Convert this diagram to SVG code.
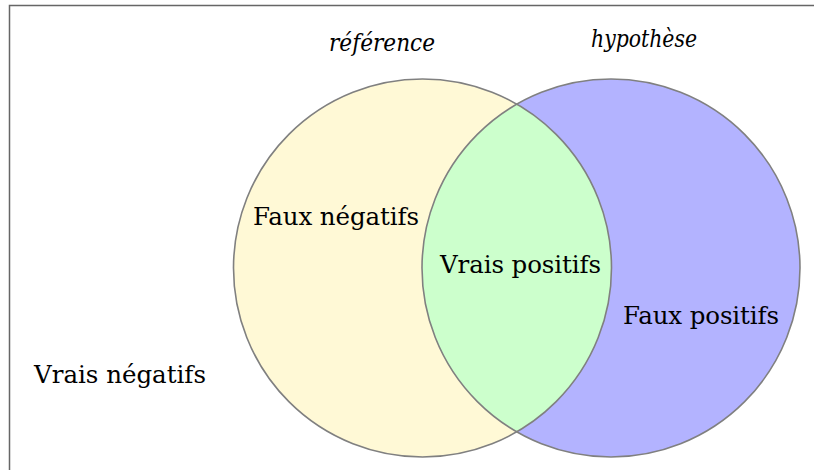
<svg xmlns="http://www.w3.org/2000/svg" width="814" height="470" viewBox="0 0 814 470">
  <style>
    .lbl { font-family: "DejaVu Serif", "Liberation Serif", serif; font-size: 24.5px; fill: #000; }
    .set { font-style: italic; font-size: 23.5px; }
    .ring { fill: none; stroke: #808080; stroke-width: 1.6; }
  </style>
  <defs>
    <clipPath id="clipRef"><circle cx="422.5" cy="268" r="189"/></clipPath>
  </defs>
  <rect width="814" height="470" fill="#ffffff"/>
  <!-- frame: top and left edges -->
  <path d="M9.5,470 V5.5 H814" fill="none" stroke="#666666" stroke-width="1.5"/>

  <g id="reference">
    <circle cx="422.5" cy="268" r="189" fill="#fff9d6"/>
  </g>
  <g id="hypothesis">
    <circle cx="611" cy="268" r="189" fill="#b3b3ff"/>
  </g>
  <g id="overlap">
    <circle cx="611" cy="268" r="189" fill="#ccffcc" clip-path="url(#clipRef)"/>
  </g>
  <g id="outlines">
    <circle class="ring" cx="422.5" cy="268" r="189"/>
    <circle class="ring" cx="611" cy="268" r="189"/>
  </g>

  <g id="labels">
    <text class="lbl set" x="329" y="51" textLength="106" lengthAdjust="spacingAndGlyphs">référence</text>
    <text class="lbl set" x="591" y="47" textLength="106" lengthAdjust="spacingAndGlyphs">hypothèse</text>
    <text class="lbl" x="253" y="225" textLength="166">Faux négatifs</text>
    <text class="lbl" x="440" y="273" textLength="161">Vrais positifs</text>
    <text class="lbl" x="623" y="324" textLength="156">Faux positifs</text>
    <text class="lbl" x="34" y="383" textLength="172">Vrais négatifs</text>
  </g>
</svg>
